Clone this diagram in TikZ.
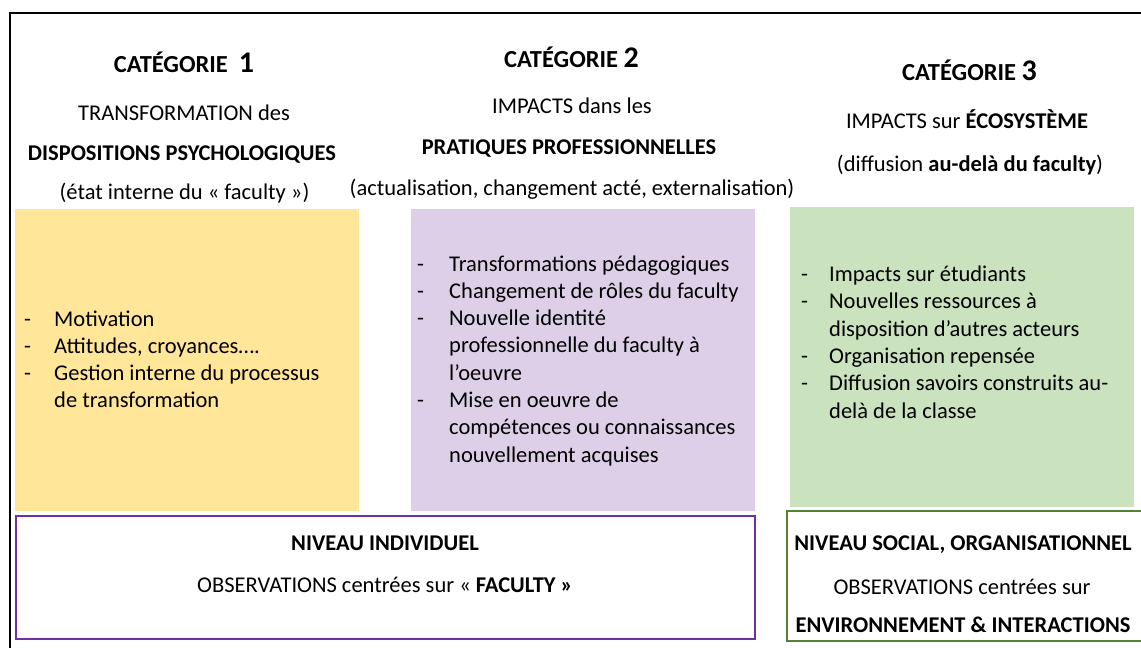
\documentclass[tikz,border=0pt]{standalone}
\usepackage{fontspec}
\setmainfont{Carlito}
\usepackage{array}
\definecolor{yfill}{HTML}{FFE699}
\definecolor{pfill}{HTML}{DDCFE8}
\definecolor{gfill}{HTML}{CAE2BD}
\definecolor{pline}{HTML}{7030A0}
\definecolor{gline}{HTML}{538135}
\newcommand\mylist[2]{\begin{tabular}[t]{@{}p{#1}@{}l@{}}#2\end{tabular}}
\tikzset{
  txt/.style={inner sep=0pt, anchor=base, font=\fontsize{22.5}{27.3}\selectfont},
  cattxt/.style={inner sep=0pt, anchor=base, font=\fontsize{24.5}{30}\selectfont\bfseries},
  lst/.style={inner sep=0pt, anchor=base west, font=\fontsize{22.5}{27.3}\selectfont},
  frame/.style={line width=2pt, black},
  indbox/.style={draw=pline, line width=1.4pt},
  socbox/.style={draw=gline, line width=1.4pt}
}
\newcommand\catnum[1]{{\fontsize{30}{30}\selectfont #1}}
\begin{document}
\begin{tikzpicture}[x=1pt,y=-1pt]
\useasboundingbox (0,0) rectangle (1141,648);
\clip (0,0) rectangle (1141,648);
\fill[white] (0,0) rectangle (1141,648);
% outer frame
\draw[frame] (10,680) -- (10,13) -- (1180,13);
% coloured boxes
\fill[yfill] (15,209) rectangle (359,511);
\fill[pfill] (411,209) rectangle (755,511);
\fill[gfill] (790,207) rectangle (1134,507);
% bottom boxes
\draw[indbox] (16,516) rectangle (755,639);
\draw[socbox] (787,511) rectangle (1180,641);
% category 1
\node[cattxt] (c1) at (184,72) {CATÉGORIE\hspace{11pt}\catnum{1}};
\node[txt] (c1a) at (184,120) {TRANSFORMATION des};
\node[txt] (c1b) at (182,160) {\textbf{DISPOSITIONS PSYCHOLOGIQUES}};
\node[txt] (c1c) at (184.5,199) {(état interne du «~faculty~»)};
% category 2
\node[cattxt] (c2) at (571.5,67) {CATÉGORIE \catnum{2}};
\node[txt] (c2a) at (572,113) {IMPACTS dans les};
\node[txt] (c2b) at (569,154) {\textbf{PRATIQUES PROFESSIONNELLES}};
\node[txt] (c2c) at (572,195) {(actualisation, changement acté, externalisation)};
% category 3
\node[cattxt] (c3) at (969.5,80) {CATÉGORIE \catnum{3}};
\node[txt] (c3a) at (967,128) {IMPACTS sur \textbf{ÉCOSYSTÈME}};
\node[txt] (c3b) at (970,171) {(diffusion \textbf{au-delà du faculty})};
% lists
\node[lst] (l1) at (24,326) {\mylist{30pt}{%
- & Motivation\\
- & Attitudes, croyances….\\
- & Gestion interne du processus\\
  & de transformation}};
\node[lst] (l2) at (417,271) {\mylist{32pt}{%
- & Transformations pédagogiques\\
- & Changement de rôles du faculty\\
- & Nouvelle identité\\
  & professionnelle du faculty à\\
  & l’oeuvre\\
- & Mise en oeuvre de\\
  & compétences ou connaissances\\
  & nouvellement acquises}};
\node[lst] (l3) at (801,281.5) {\mylist{28pt}{%
- & Impacts sur étudiants\\
- & Nouvelles ressources à\\
  & disposition d’autres acteurs\\
- & Organisation repensée\\
- & Diffusion savoirs construits au-\\
  & delà de la classe}};
% bottom texts
\node[txt] (n1) at (385,550) {\textbf{NIVEAU INDIVIDUEL}};
\node[txt] (n2) at (385,592) {OBSERVATIONS centrées sur «~\textbf{FACULTY~»}};
\node[txt] (s1) at (963,550) {\textbf{NIVEAU SOCIAL, ORGANISATIONNEL}};
\node[txt] (s2) at (962,594) {OBSERVATIONS centrées sur};
\node[txt] (s3) at (963,632) {\textbf{ENVIRONNEMENT \& INTERACTIONS}};
\end{tikzpicture}
\end{document}
